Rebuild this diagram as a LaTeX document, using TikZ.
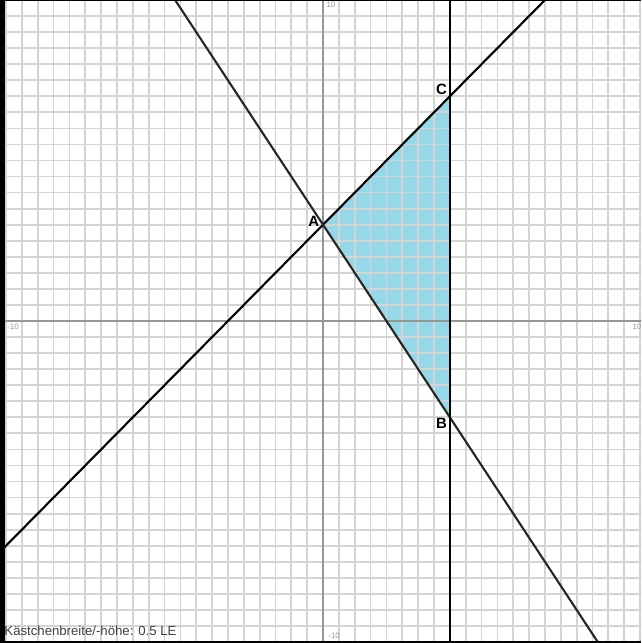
\documentclass[tikz,border=0pt]{standalone}
\usepackage{fontspec}
\setmainfont{Liberation Sans}
\definecolor{flaeche}{RGB}{150,216,232}
\definecolor{gitterfarbe}{RGB}{212,212,212}
\definecolor{achsfarbe}{RGB}{150,150,150}
\begin{document}
\begin{tikzpicture}[
		x=0.634cm, y=0.642cm,
		gitter/.style	= {draw=gitterfarbe,	line width=1pt},
		achse/.style	= {draw=achsfarbe,		line width=1pt},
		gerade/.style	= {draw=black,			line width=1.2pt},
		pkt/.style		= {font=\bfseries\fontsize{8.5}{8.5}\selectfont, inner sep=0.5pt},
		skala/.style	= {font=\fontsize{4.5}{4.5}\selectfont, text=achsfarbe, inner sep=0pt},
		rand/.style		= {fill=black, draw=none}
		]
		
		\useasboundingbox	(-10.19, -10.03)	rectangle	(10.03, 10.0);
		\clip				(-10.19, -10.03)	rectangle	(10.03, 10.0);
		
		\coordinate	(A)		at	(0, 3);
		\coordinate	(B)		at	(4, -3);
		\coordinate	(C)		at	(4, 7);
		\coordinate	(g1)	at	(-10.5, -7.5);
		\coordinate	(g2)	at	(7.5, 10.5);
		\coordinate	(h1)	at	(-5, 10.5);
		\coordinate	(h2)	at	(9, -10.5);
		\coordinate	(v1)	at	(4, 10.5);
		\coordinate	(v2)	at	(4, -10.5);
		
		\fill[flaeche]	(A)	--	(B)	--	(C)	--	cycle;
		
		\foreach \k in {-21,...,21}{
			\draw[gitter]	(\k/2, -10.5)	--	(\k/2, 10.5);
			\draw[gitter]	(-10.5, \k/2)	--	(10.5, \k/2);
		}
		\draw[achse]	(-10.5, 0)	--	(10.5, 0);
		\draw[achse]	(0, -10.5)	--	(0, 10.5);
		
		\node[skala]	(ty1)	at	(0.25, 9.84)	{10};
		\node[skala]	(ty2)	at	(0.35, -9.81)	{-10};
		\node[skala]	(tx1)	at	(-9.78, -0.19)	{-10};
		\node[skala]	(tx2)	at	(9.9, -0.19)	{10};
		
		\draw[gerade]				(g1)	--	(A)	--	(C)	--	(g2);
		\draw[gerade, draw=black!85]	(h1)	--	(A)	--	(B)	--	(h2);
		\draw[gerade]				(v1)	--	(C)	--	(B)	--	(v2);
		
		\node[pkt, anchor=east]			(lA)	at	([xshift=-1.5pt, yshift=2pt]A)	{A};
		\node[pkt, anchor=south east]	(lC)	at	([xshift=-1pt]C)		{C};
		\node[pkt, anchor=north east]	(lB)	at	([xshift=-1pt]B)		{B};
		
		\node[anchor=west, inner sep=0pt, font=\fontsize{7.5}{7.5}\selectfont, text=black!75]
			(info)	at	(-10.06, -9.66)	{Kästchenbreite/-höhe: 0.5 LE};
		
		\fill[rand]	(-10.19, -10.03)	rectangle	(-10.03, 10.0);
		\fill[rand]	(-10.19, 9.97)		rectangle	(10.03, 10.0);
		\fill[rand]	(-10.19, -10.03)	rectangle	(10.03, -9.97);
\end{tikzpicture}
\end{document}
